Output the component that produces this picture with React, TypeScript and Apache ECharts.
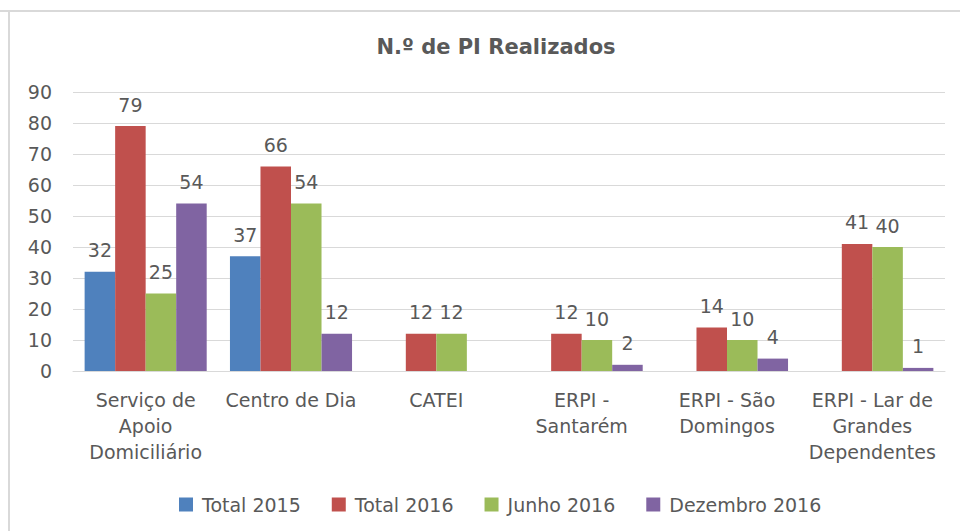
import React, { useEffect, useRef } from "react";
import * as echarts from "echarts";

const categories = [
  "Serviço de\nApoio\nDomiciliário",
  "Centro de Dia",
  "CATEI",
  "ERPI -\nSantarém",
  "ERPI - São\nDomingos",
  "ERPI - Lar de\nGrandes\nDependentes",
];
const seriesNames = ["Total 2015", "Total 2016", "Junho 2016", "Dezembro 2016"];
const total2015 = [32, 37, null, null, null, null];
const total2016 = [79, 66, 12, 12, 14, 41];
const junho2016 = [25, 54, 12, 10, 10, 40];
const dezembro2016 = [54, 12, null, 2, 4, 1];
const colors = ["#4F81BD", "#C0504D", "#9BBB59", "#8064A2"];
const yTicks = { min: 0, max: 90, interval: 10 };

const FONT = "DejaVu Sans";
const TXT = "#595959";

export default function App() {
  const ref = useRef<HTMLDivElement>(null);
  useEffect(() => {
    if (!ref.current) return;
    const chart = echarts.init(ref.current, null, { renderer: "svg" });
    const values = [total2015, total2016, junho2016, dezembro2016];
    chart.setOption({
      animation: false,
      backgroundColor: "#ffffff",
      title: {
        text: "N.º de PI Realizados",
        left: 491,
        top: 31,
        textAlign: "center",
        textStyle: { fontFamily: FONT, fontSize: 21, fontWeight: "bold", color: TXT },
      },
      legend: {
        data: seriesNames,
        left: 174,
        top: 490,
        itemWidth: 14,
        itemHeight: 14,
        itemGap: 31,
        icon: "rect",
        textStyle: { fontFamily: FONT, fontSize: 19, color: TXT, padding: [0, 0, 0, 4] },
      },
      grid: { left: 73, right: 15, top: 92, bottom: 160 },
      xAxis: {
        type: "category",
        data: categories,
        axisTick: { show: false },
        axisLine: { lineStyle: { color: "#D9D9D9", width: 1 } },
        axisLabel: {
          interval: 0,
          fontFamily: FONT,
          fontSize: 19,
          color: TXT,
          lineHeight: 26,
          margin: 16,
        },
      },
      yAxis: {
        type: "value",
        min: yTicks.min,
        max: yTicks.max,
        interval: yTicks.interval,
        axisLine: { show: false },
        axisTick: { show: false },
        splitLine: { lineStyle: { color: "#D9D9D9", width: 1 } },
        axisLabel: { fontFamily: FONT, fontSize: 19, color: TXT, margin: 21 },
      },
      graphic: [
        { type: "line", shape: { x1: 0, y1: 11, x2: 960, y2: 11 }, style: { stroke: "#D9D9D9", lineWidth: 2 } },
        { type: "line", shape: { x1: 9, y1: 11, x2: 9, y2: 531 }, style: { stroke: "#D9D9D9", lineWidth: 2 } },
      ],
      series: seriesNames.map((name, i) => ({
        name,
        type: "bar",
        data: values[i],
        barGap: "0%",
        barCategoryGap: "16%",
        itemStyle: { color: colors[i] },
        label: {
          show: true,
          position: "top",
          distance: 12,
          fontFamily: FONT,
          fontSize: 19,
          color: TXT,
        },
      })),
    });
    return () => chart.dispose();
  }, []);
  return (
    <div
      ref={ref}
      style={{ position: "absolute", left: 0, top: 0, width: 960, height: 531 }}
    />
  );
}
